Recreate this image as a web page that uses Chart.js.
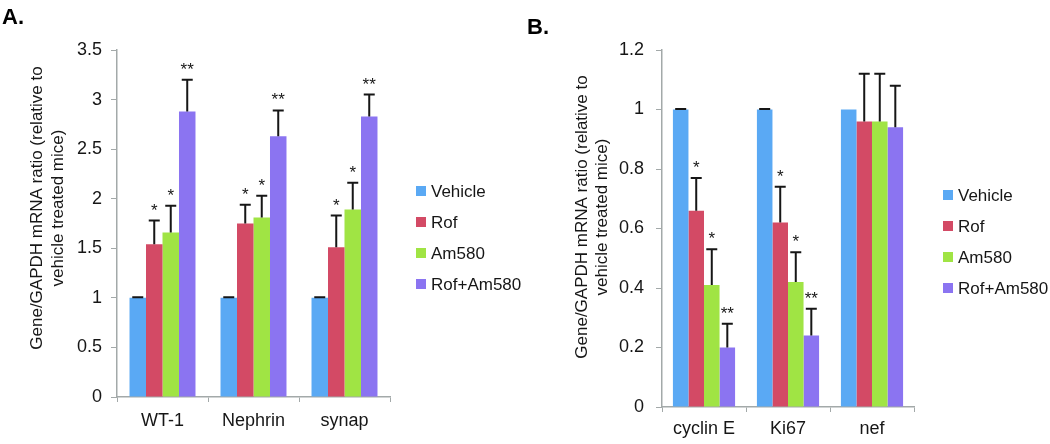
<!DOCTYPE html>
<html>
<head>
<meta charset="utf-8">
<script src="https://cdn.jsdelivr.net/npm/chart.js@4.4.1/dist/chart.umd.min.js"></script>
<style>
  html, body { margin: 0; padding: 0; background: #fff; }
  .panel { position: absolute; top: 0; width: 525px; height: 444px; }
  #panelA { left: 0; }
  #panelB { left: 525px; }
</style>
</head>
<body>
<div class="panel" id="panelA"><canvas id="chartA" width="525" height="444"></canvas></div>
<div class="panel" id="panelB"><canvas id="chartB" width="525" height="444"></canvas></div>
<script>
// Series shared by both panels
const seriesNames = ['Vehicle', 'Rof', 'Am580', 'Rof+Am580'];
const seriesColors = ['#5aa9f4', '#d34a65', '#a0e444', '#8b74f1'];

// Panel A data
const genesA = ['WT-1', 'Nephrin', 'synap'];
const vehicleA = [1, 1, 1];
const rofA = [1.54, 1.75, 1.51];
const am580A = [1.66, 1.81, 1.89];
const comboA = [2.88, 2.63, 2.83];
const vehicleErrA = [0.005, 0.005, 0.005];
const rofErrA = [0.24, 0.19, 0.32];
const am580ErrA = [0.27, 0.22, 0.27];
const comboErrA = [0.32, 0.26, 0.22];
const starsA = [['', '', ''], ['*', '*', '*'], ['*', '*', '*'], ['**', '**', '**']];
const yTicksA = ['0', '0.5', '1', '1.5', '2', '2.5', '3', '3.5'];

// Panel B data
const genesB = ['cyclin E', 'Ki67', 'nef'];
const vehicleB = [1, 1, 1];
const rofB = [0.66, 0.62, 0.96];
const am580B = [0.41, 0.42, 0.96];
const comboB = [0.20, 0.24, 0.94];
const vehicleErrB = [0.002, 0.002, 0];
const rofErrB = [0.11, 0.12, 0.16];
const am580ErrB = [0.12, 0.10, 0.16];
const comboErrB = [0.08, 0.09, 0.14];
const starsB = [['', '', ''], ['*', '*', ''], ['*', '*', ''], ['**', '**', '']];
const yTicksB = ['0', '0.2', '0.4', '0.6', '0.8', '1', '1.2'];

const yTitle = ['Gene/GAPDH mRNA ratio (relative to', 'vehicle treated mice)'];

const FONT = '"Liberation Sans", Arial, sans-serif';
const AXIS = '#a3a9a9';
const INK = '#161616';

// Panel letter, rotated axis title, legend, error bars and stars
const decorPlugin = {
    id: 'decor',
    afterDatasetsDraw(chart, args, opts) {
        const ctx = chart.ctx;
        const yScale = chart.scales.y;
        ctx.save();
        ctx.strokeStyle = INK;
        ctx.fillStyle = INK;
        ctx.lineWidth = 2;
        ctx.font = '17px ' + FONT;
        ctx.textAlign = 'center';
        ctx.textBaseline = 'alphabetic';
        chart.data.datasets.forEach((ds, i) => {
            const meta = chart.getDatasetMeta(i);
            meta.data.forEach((bar, j) => {
                const err = opts.errors[i][j];
                if (!err) return;
                const yCap = yScale.getPixelForValue(ds.data[j] + err);
                ctx.beginPath();
                ctx.moveTo(bar.x, bar.y);
                ctx.lineTo(bar.x, yCap);
                ctx.moveTo(bar.x - 5.5, yCap);
                ctx.lineTo(bar.x + 5.5, yCap);
                ctx.stroke();
                const star = opts.stars[i][j];
                if (star) ctx.fillText(star, bar.x, yCap - 5);
            });
        });
        ctx.restore();
    },
    afterDraw(chart, args, opts) {
        const ctx = chart.ctx;
        ctx.save();
        ctx.fillStyle = '#000';

        // Panel letter
        ctx.font = 'bold 22px ' + FONT;
        ctx.textAlign = 'left';
        ctx.textBaseline = 'alphabetic';
        ctx.fillText(opts.letter, 2, opts.letterY);

        // Y axis title, two rotated lines
        ctx.font = '17px ' + FONT;
        ctx.fillStyle = INK;
        ctx.translate(opts.titleX, opts.titleY);
        ctx.rotate(-Math.PI / 2);
        ctx.textAlign = 'center';
        ctx.textBaseline = 'middle';
        yTitle.forEach((line, k) => ctx.fillText(line, 0, k * opts.titleGap));
        ctx.setTransform(1, 0, 0, 1, 0, 0);

        // Legend
        ctx.textAlign = 'left';
        ctx.textBaseline = 'middle';
        chart.data.datasets.forEach((ds, i) => {
            const y = opts.legendY + i * 31;
            ctx.fillStyle = ds.backgroundColor;
            ctx.fillRect(opts.legendX, y - 5, 10, 10);
            ctx.fillStyle = INK;
            ctx.fillText(ds.label, opts.legendX + 15, y + 1);
        });
        ctx.restore();
    }
};

function makeChart(id, cfg) {
    const width = 525, height = 444;
    return new Chart(document.getElementById(id), {
        type: 'bar',
        data: {
            labels: cfg.labels,
            datasets: cfg.values.map((values, i) => ({
                label: seriesNames[i],
                data: values,
                backgroundColor: seriesColors[i],
                borderWidth: 0,
                categoryPercentage: cfg.catPct,
                barPercentage: 1
            }))
        },
        options: {
            responsive: false,
            animation: false,
            layout: { padding: { left: 0, top: cfg.top, right: width - cfg.right, bottom: 0 } },
            scales: {
                x: {
                    grid: { drawOnChartArea: false, drawTicks: true, tickLength: 5, color: AXIS, offset: true },
                    border: { color: AXIS, width: 1.5 },
                    ticks: { font: { size: 18, family: FONT }, color: INK, padding: cfg.xPad, maxRotation: 0 },
                    afterFit: scale => { scale.height = height - cfg.bottom; }
                },
                y: {
                    min: 0,
                    max: cfg.max,
                    grid: { drawOnChartArea: false, drawTicks: true, tickLength: 6, color: AXIS },
                    border: { color: AXIS, width: 1.5 },
                    ticks: {
                        stepSize: cfg.step,
                        font: { size: 18, family: FONT },
                        color: INK,
                        padding: cfg.yPad,
                        callback: (v, i) => cfg.yTicks[i]
                    },
                    afterFit: scale => { scale.width = cfg.left; }
                }
            },
            plugins: {
                legend: { display: false },
                tooltip: { enabled: false },
                decor: cfg.decor
            }
        },
        plugins: [decorPlugin]
    });
}

makeChart('chartA', {
    labels: genesA,
    values: [vehicleA, rofA, am580A, comboA],
    max: 3.5, step: 0.5, yTicks: yTicksA,
    left: 117, right: 390, top: 50, bottom: 397,
    catPct: 0.725, xPad: 8, yPad: 9,
    decor: {
        letter: 'A.', letterY: 24,
        titleX: 37, titleY: 208, titleGap: 21,
        legendX: 416, legendY: 191,
        errors: [vehicleErrA, rofErrA, am580ErrA, comboErrA],
        stars: starsA
    }
});

makeChart('chartB', {
    labels: genesB,
    values: [vehicleB, rofB, am580B, comboB],
    max: 1.2, step: 0.2, yTicks: yTicksB,
    left: 137, right: 389, top: 50, bottom: 407,
    catPct: 0.74, xPad: 6, yPad: 12,
    decor: {
        letter: 'B.', letterY: 34,
        titleX: 57, titleY: 217, titleGap: 20,
        legendX: 418, legendY: 195,
        errors: [vehicleErrB, rofErrB, am580ErrB, comboErrB],
        stars: starsB
    }
});
</script>
</body>
</html>
